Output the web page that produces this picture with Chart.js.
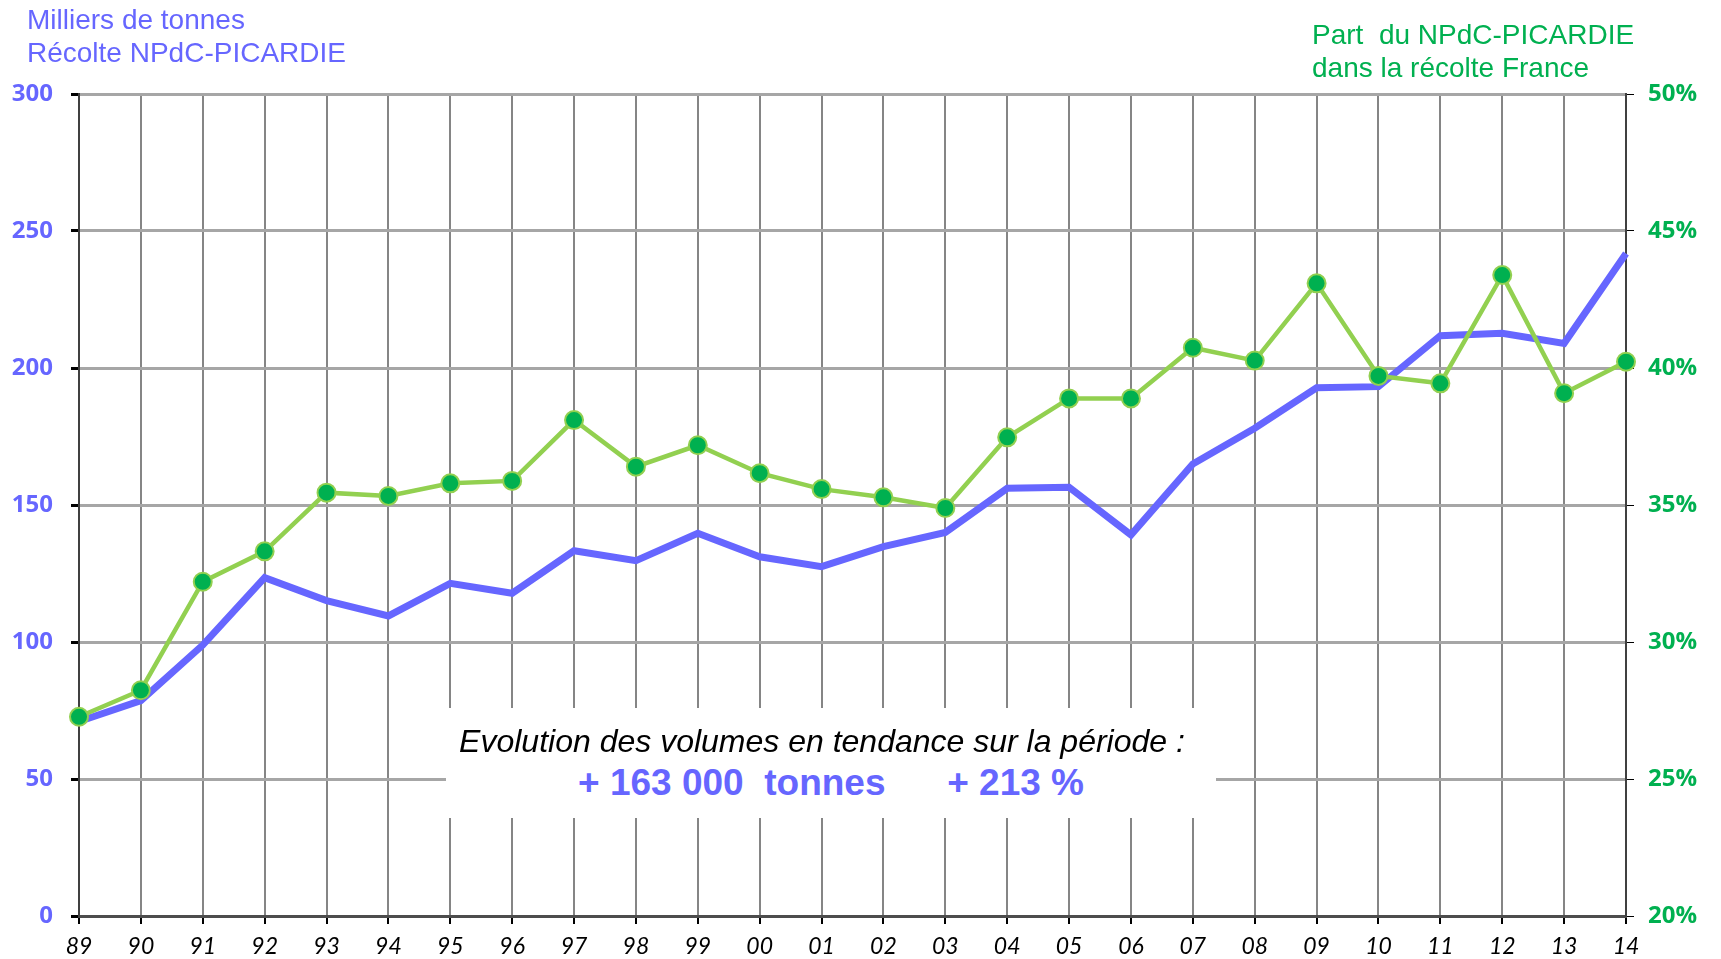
<!DOCTYPE html>
<html lang="fr">
<head>
    <meta charset="UTF-8">
    <title>Récolte NPdC-PICARDIE</title>
    <script src="https://cdn.jsdelivr.net/npm/chart.js"></script>
    <style>
        body { margin: 0; background: #fff; }
        #wrap { position: relative; width: 1721px; height: 959px; }
        .titre { position: absolute; font-family: "Liberation Sans", Arial, sans-serif; font-size: 28px; line-height: 33px; }
        #titreG { left: 27px; top: 3px; color: #6666ff; }
        #titreD { left: 1312px; top: 18px; color: #00b050; }
        #encadre {
            position: absolute; left: 446px; top: 708px; width: 770px; height: 110px;
            background: #fff; text-align: center; font-family: "Liberation Sans", Arial, sans-serif;
        }
        #encadre .l1 { position: relative; left: -9px; font-style: italic; font-size: 32px; line-height: 36px; color: #000; margin-top: 15px; }
        #encadre .l2 { font-weight: bold; font-size: 37px; line-height: 42px; color: #6666ff; white-space: pre; margin-top: 3px; }
    </style>
</head>
<body>
<div id="wrap">
    <canvas id="graph" width="1721" height="959"></canvas>
    <div class="titre" id="titreG">Milliers de tonnes<br>Récolte NPdC-PICARDIE</div>
    <div class="titre" id="titreD">Part&nbsp; du NPdC-PICARDIE<br>dans la récolte France</div>
    <div id="encadre">
        <div class="l1">Evolution des volumes en tendance sur la période :</div>
        <div class="l2">+ 163 000  tonnes      + 213 %</div>
    </div>
</div>
<script>
    // années (axe x)
    var annees = ['89', '90', '91', '92', '93', '94', '95', '96', '97', '98', '99', '00', '01',
                  '02', '03', '04', '05', '06', '07', '08', '09', '10', '11', '12', '13', '14'];
    // récolte NPdC-Picardie, milliers de tonnes
    var recolte = [71, 78.6, 98.9, 123.5, 115.1, 109.5, 121.4, 117.8, 133.3, 129.7, 139.7, 131.1, 127.5,
                   134.8, 140.0, 156.1, 156.5, 139.1, 165.0, 178.0, 192.8, 193.2, 211.8, 212.7, 209.0, 241.8];
    // part dans la récolte France (%)
    var part = [27.27, 28.24, 32.2, 33.31, 35.45, 35.33, 35.79, 35.88, 38.1, 36.4, 37.18, 36.16, 35.58,
                35.28, 34.89, 37.47, 38.89, 38.89, 40.74, 40.27, 43.09, 39.71, 39.44, 43.39, 39.08, 40.23];

    var bleu = '#6666ff';
    var vert = '#00b050';
    var policeAxe = { family: '"Open Sans", "Noto Sans", sans-serif', weight: 'bold', size: 24 };

    var ctx = document.getElementById('graph').getContext('2d');
    new Chart(ctx, {
        type: 'line',
        data: {
            labels: annees,
            datasets: [{
                label: 'Part',
                data: part,
                yAxisID: 'y1',
                borderColor: '#92d050',
                borderWidth: 4.5,
                pointRadius: 9,
                pointBorderWidth: 2,
                pointBackgroundColor: vert,
                pointBorderColor: '#92d050',
                tension: 0,
                clip: false,
                order: 1
            }, {
                label: 'Récolte',
                data: recolte,
                yAxisID: 'y',
                borderColor: bleu,
                borderWidth: 7,
                pointRadius: 0,
                tension: 0,
                clip: false,
                order: 2
            }]
        },
        options: {
            responsive: false,
            animation: false,
            layout: { padding: { top: 94, left: 0, right: 0, bottom: 0 } },
            plugins: { legend: { display: false }, tooltip: { enabled: false } },
            scales: {
                x: {
                    offset: false,
                    grid: { color: '#858585', lineWidth: 2, tickColor: '#000', tickLength: 8 },
                    border: { color: '#4d4d4d', width: 3 },
                    ticks: {
                        color: '#000', padding: 9, maxRotation: 0, autoSkip: false,
                        font: { family: 'Lato, "Open Sans", sans-serif', style: 'italic', size: 23 }
                    },
                    afterFit: function (s) { s.height = 43; }
                },
                y: {
                    position: 'left', min: 0, max: 300,
                    ticks: { stepSize: 50, color: bleu, padding: 18, font: policeAxe },
                    grid: { color: '#a6a6a6', lineWidth: 3, tickColor: '#000', tickLength: 8 },
                    border: { color: '#404040', width: 2 },
                    afterFit: function (s) { s.width = 79; }
                },
                y1: {
                    position: 'right', min: 20, max: 50,
                    ticks: {
                        stepSize: 5, color: vert, padding: 14, font: policeAxe,
                        callback: function (v) { return v + '%'; }
                    },
                    grid: { drawOnChartArea: false, tickColor: '#000', tickLength: 8 },
                    border: { color: '#404040', width: 2 },
                    afterFit: function (s) { s.width = 95; }
                }
            }
        }
    });
</script>
</body>
</html>
